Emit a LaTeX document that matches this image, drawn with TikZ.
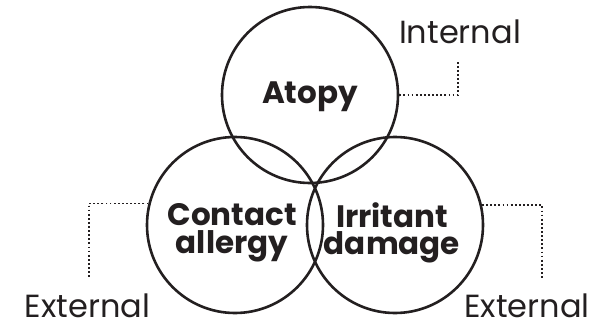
\documentclass[tikz,border=0pt]{standalone}
\usepackage{fontspec}
\setmainfont{Poppins}
\definecolor{ink}{RGB}{35,31,32}
\begin{document}
\begin{tikzpicture}[x=1pt,y=-1pt,
  circ/.style={circle,draw=ink,line width=2.6pt,minimum size=176pt,inner sep=0pt},
  title/.style={text=ink,font=\bfseries\fontsize{31}{27.5}\selectfont,align=center,inner sep=0pt},
  side/.style={text=ink,font=\fontsize{32}{32}\selectfont,inner sep=0pt,anchor=base},
  dots/.style={draw=ink,line width=1.8pt,dash pattern=on 1.8pt off 2.3pt}]
\useasboundingbox (0,0) rectangle (608,322);
\node[circ] (atopy) at (310,95) {};
\node[circ] (contact) at (235,225) {};
\node[circ] (irritant) at (395,225) {};
\node[title] (tatopy) at (310,96.5) {Atopy};
\node[title] (tcontact) at (232,233) {Contact\\allergy};
\node[title] (tirritant) at (392,233) {Irritant\\damage};
\node[side] (internal) at (460,43) {Internal};
\node[side] (extl) at (87.5,317.5) {External};
\node[side] (extr) at (527,317) {External};
\coordinate (ci) at (458,60);
\coordinate (cl) at (89,278);
\coordinate (cr) at (542,278);
\draw[dots] (atopy.east) -| (ci);
\draw[dots] (contact.166.9) -| (cl);
\draw[dots] (irritant.13.1) -| (cr);
\end{tikzpicture}
\end{document}
